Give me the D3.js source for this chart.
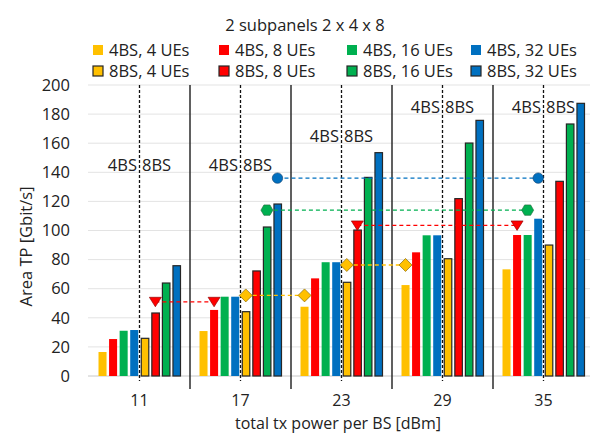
<!DOCTYPE html>
<html>
<head>
<meta charset="utf-8">
<script src="https://cdn.jsdelivr.net/npm/d3@7"></script>
<style>
  html, body { margin: 0; padding: 0; background: #fff; }
  svg { display: block; font-family: "Open Sans", "Noto Sans", sans-serif; }
</style>
</head>
<body>
<svg id="chart" width="590" height="435"></svg>
<script>
// Transmit power levels (x categories)
const powers = ["11", "17", "23", "29", "35"];

// Series: 4 BS and 8 BS deployments with 4/8/16/32 UEs
const seriesNames = ["4BS, 4 UEs", "4BS, 8 UEs", "4BS, 16 UEs", "4BS, 32 UEs",
                     "8BS, 4 UEs", "8BS, 8 UEs", "8BS, 16 UEs", "8BS, 32 UEs"];
const seriesColors = ["#FFC000", "#FF0000", "#00B050", "#0070C0",
                      "#FFC000", "#FF0000", "#00B050", "#0070C0"];

// Area throughput [Gbit/s], one array per series, indexed by power level
const tp4bs4  = [16.5, 30.9, 47.6, 62.5, 73.3];
const tp4bs8  = [25.4, 45.4, 67.1, 85.0, 96.9];
const tp4bs16 = [31.1, 54.5, 78.2, 96.7, 96.9];
const tp4bs32 = [31.6, 54.5, 78.2, 96.7, 108.1];
const tp8bs4  = [25.9, 44.2, 64.4, 80.6, 90.0];
const tp8bs8  = [43.3, 72.2, 100.3, 121.9, 133.8];
const tp8bs16 = [63.9, 102.4, 136.5, 160.1, 173.2];
const tp8bs32 = [75.8, 118.2, 153.5, 175.7, 187.4];
const seriesValues = [tp4bs4, tp4bs8, tp4bs16, tp4bs32, tp8bs4, tp8bs8, tp8bs16, tp8bs32];

// Equal-throughput references: 8BS result at one power vs 4BS at a higher power
const refColor     = [1, 0, 2, 3, 0, 1];            // colour index (series)
const refValue     = [51, 55.4, 114, 136, 76.3, 103.5];
const refFromGroup = [0, 1, 1, 1, 2, 2];
const refFromBar   = [5, 4, 6, 7, 4, 5];
const refToGroup   = [1, 2, 4, 4, 3, 4];
const refToBar     = [1, 0, 2, 3, 0, 1];

// Height (in Gbit/s) of the "4BS | 8BS" caption in each group
const captionLevel = [145, 145, 165, 185, 185];

const yTicks = [0, 20, 40, 60, 80, 100, 120, 140, 160, 180, 200];

const svg = d3.select("#chart");
const plotTop = 85, plotBottom = 376, plotLeft = 89, plotRight = 594;
const fs = 16.5;

const x = d3.scaleBand().domain(d3.range(powers.length)).range([plotLeft, plotRight]).padding(0);
const xi = d3.scaleBand().domain(d3.range(seriesNames.length))
  .range([0, x.bandwidth()]).paddingInner(0.24).paddingOuter(0.9);
const y = d3.scaleLinear().domain([0, 200]).range([plotBottom, plotTop]);

// Horizontal gridlines
svg.append("g").selectAll("line").data(yTicks).join("line")
  .attr("x1", plotLeft - 1).attr("x2", 590)
  .attr("y1", d => y(d)).attr("y2", d => y(d))
  .attr("stroke", d => d === 0 ? "#c8c8c8" : "#e3e3e3").attr("stroke-width", 1);

// Y axis tick labels
svg.append("g").selectAll("text").data(yTicks).join("text")
  .attr("x", 70).attr("y", d => y(d)).attr("dy", "0.35em")
  .attr("text-anchor", "end").attr("font-size", fs).attr("fill", "#222")
  .text(d => d);

// Y axis title
svg.append("text")
  .attr("transform", `translate(26,${(plotTop + plotBottom) / 2 + 16}) rotate(-90)`)
  .attr("text-anchor", "middle").attr("dy", "0.35em")
  .attr("font-size", fs).attr("fill", "#222")
  .text("Area TP [Gbit/s]");

// Group separators (solid) and extending ticks
svg.append("g").selectAll("line").data(d3.range(1, powers.length)).join("line")
  .attr("x1", d => x(d)).attr("x2", d => x(d))
  .attr("y1", plotTop).attr("y2", plotBottom + 13)
  .attr("stroke", "#2b2b2b").attr("stroke-width", 1.5);

// 4BS / 8BS split (dashed) in the middle of each group
svg.append("g").selectAll("line").data(d3.range(powers.length)).join("line")
  .attr("x1", d => x(d) + x.bandwidth() / 2).attr("x2", d => x(d) + x.bandwidth() / 2)
  .attr("y1", plotTop).attr("y2", plotBottom + 5)
  .attr("stroke", "#111").attr("stroke-width", 1.3)
  .attr("stroke-dasharray", "3,2");

// Bars
const bars = [];
seriesValues.forEach((vals, s) => vals.forEach((v, g) => bars.push({ s, g, v })));
svg.append("g").selectAll("rect").data(bars).join("rect")
  .attr("x", d => x(d.g) + xi(d.s) + (d.s >= 4 ? 0.5 : 0))
  .attr("y", d => y(d.v))
  .attr("width", d => xi.bandwidth() - (d.s >= 4 ? 0.5 : 0))
  .attr("height", d => y(0) - y(d.v))
  .attr("fill", d => seriesColors[d.s])
  .attr("stroke", d => d.s >= 4 ? "#262626" : "none")
  .attr("stroke-width", 1.2);

// Captions "4BS | 8BS"
const cap = svg.append("g").selectAll("g").data(d3.range(powers.length)).join("g");
cap.append("text")
  .attr("x", d => x(d) + x.bandwidth() / 2 - 2.5)
  .attr("y", d => y(captionLevel[d])).attr("dy", "0.35em")
  .attr("text-anchor", "end").attr("font-size", fs).attr("fill", "#222")
  .text("4BS");
cap.append("text")
  .attr("x", d => x(d) + x.bandwidth() / 2 + 2.5)
  .attr("y", d => y(captionLevel[d])).attr("dy", "0.35em")
  .attr("text-anchor", "start").attr("font-size", fs).attr("fill", "#222")
  .text("8BS");

// Reference lines and markers
const barCenter = (g, b) => x(g) + xi(b) + xi.bandwidth() / 2;
const refs = refValue.map((v, i) => ({
  c: refColor[i], v,
  x1: barCenter(refFromGroup[i], refFromBar[i]),
  x2: barCenter(refToGroup[i], refToBar[i])
}));
svg.append("g").selectAll("line").data(refs).join("line")
  .attr("x1", d => d.x1).attr("x2", d => d.x2)
  .attr("y1", d => y(d.v)).attr("y2", d => y(d.v))
  .attr("stroke", d => seriesColors[d.c]).attr("stroke-width", 1.3)
  .attr("stroke-dasharray", "4,3");

const markerPath = c => {
  if (c === 1) return "M-6,-4.5L6,-4.5L0,5Z";                              // triangle down
  if (c === 0) return "M0,-6.5L6.5,0L0,6.5L-6.5,0Z";                       // diamond
  if (c === 2) {                                                            // hexagon
    const r = 6;
    return "M" + d3.range(6).map(k => {
      const a = Math.PI / 3 * k;
      return [r * Math.cos(a), r * Math.sin(a)].join(",");
    }).join("L") + "Z";
  }
  return d3.symbol(d3.symbolCircle, 85)();                                  // circle
};
const markerStroke = ["#7f6000", "#8b0000", "#1e6b3a", "#0d3f6e"];
const marks = [];
refs.forEach(r => { marks.push({ c: r.c, v: r.v, x: r.x1 }); marks.push({ c: r.c, v: r.v, x: r.x2 }); });
svg.append("g").selectAll("path").data(marks).join("path")
  .attr("transform", d => `translate(${d.x},${y(d.v)})`)
  .attr("d", d => markerPath(d.c))
  .attr("fill", d => seriesColors[d.c])
  .attr("stroke", d => markerStroke[d.c]).attr("stroke-width", 0.8)
  .attr("stroke-opacity", 0.8);

// X tick labels and title
svg.append("g").selectAll("text").data(d3.range(powers.length)).join("text")
  .attr("x", d => x(d) + x.bandwidth() / 2).attr("y", 400.5).attr("dy", "0.35em")
  .attr("text-anchor", "middle").attr("font-size", 16).attr("fill", "#222")
  .text(d => powers[d]);
svg.append("text")
  .attr("x", 338).attr("y", 423).attr("dy", "0.35em")
  .attr("text-anchor", "middle").attr("font-size", 16).attr("fill", "#222")
  .text("total tx power per BS [dBm]");

// Legend
svg.append("text")
  .attr("x", 305).attr("y", 25).attr("dy", "0.35em")
  .attr("text-anchor", "middle").attr("font-size", fs).attr("fill", "#222")
  .text("2 subpanels 2 x 4 x 8");
const legX = [93, 219, 347, 471];
const legY = [50, 71];
const leg = svg.append("g").selectAll("g").data(d3.range(seriesNames.length)).join("g")
  .attr("transform", s => `translate(${legX[s % 4]},${legY[Math.floor(s / 4)]})`);
leg.append("rect")
  .attr("x", 0).attr("y", -5).attr("width", 10).attr("height", 10)
  .attr("fill", s => seriesColors[s])
  .attr("stroke", s => s >= 4 ? "#262626" : "none").attr("stroke-width", 1.2);
leg.append("text")
  .attr("x", 16).attr("y", 0).attr("dy", "0.35em")
  .attr("font-size", fs).attr("fill", "#222")
  .text(s => seriesNames[s]);
</script>
</body>
</html>
